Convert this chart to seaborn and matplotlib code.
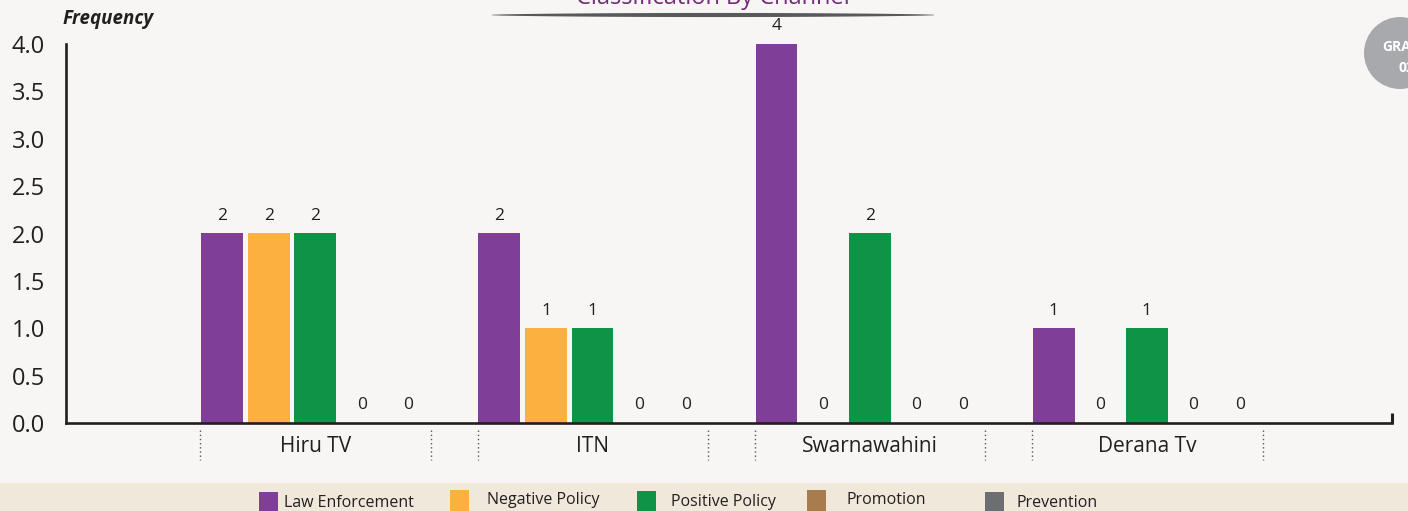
import pandas as pd
import matplotlib.pyplot as plt
import matplotlib.patches as mpatches
import seaborn as sns

## data
channels = ['Hiru TV', 'ITN', 'Swarnawahini', 'Derana Tv']
categories = ['Law Enforcement', 'Negative Policy', 'Positive Policy', 'Promotion', 'Prevention']
law_enforcement = [2, 2, 4, 1]
negative_policy = [2, 1, 0, 0]
positive_policy = [2, 1, 2, 1]
promotion = [0, 0, 0, 0]
prevention = [0, 0, 0, 0]
yticks = [0.0, 0.5, 1.0, 1.5, 2.0, 2.5, 3.0, 3.5, 4.0]
colors = ['#7f3f98', '#fbb040', '#0f9347', '#a97c50', '#6d6e71']

series = [law_enforcement, negative_policy, positive_policy, promotion, prevention]
rows = []
for cat, vals in zip(categories, series):
    for ch, v in zip(channels, vals):
        rows.append({'channel': ch, 'category': cat, 'count': v})
df = pd.DataFrame(rows)

bg = '#f7f6f4'
dark = '#231f20'
sns.set_style('white', {'axes.facecolor': bg, 'figure.facecolor': bg})
plt.rcParams['font.family'] = ['Open Sans', 'DejaVu Sans']

W, H = 1408, 511
fig = plt.figure(figsize=(W / 100, H / 100), dpi=100)
fig.patch.set_facecolor(bg)
ax = fig.add_axes([66 / W, 88 / H, 1326 / W, 379 / H])

sns.barplot(data=df, x='channel', y='count', hue='category', palette=colors,
            width=0.84, gap=0.1, ax=ax, legend=False, linewidth=0, saturation=1)

# value labels
for c in ax.containers:
    ax.bar_label(c, fmt='%g', padding=7, fontsize=12.5, color=dark)

ax.set_xlim(-0.9, 3.885)
ax.set_ylim(0, 4.0)
ax.set_yticks(yticks)
ax.set_yticklabels([f'{t:.1f}' for t in yticks])
ax.set_xlabel('')
ax.set_ylabel('')

for s in ['top', 'right']:
    ax.spines[s].set_visible(False)
for s in ['left', 'bottom']:
    ax.spines[s].set_color(dark)
    ax.spines[s].set_linewidth(1.9)

ax.tick_params(axis='y', direction='in', length=24, width=1.5, color=dark,
               labelsize=17, pad=15, labelcolor=dark)
ax.tick_params(axis='x', length=0, labelsize=15, pad=9, labelcolor=dark)

# small end tick at right of the x axis
ax.plot([1, 1], [0, 0.027], transform=ax.transAxes, color=dark, lw=2.2,
        clip_on=False, solid_capstyle='butt')

# dotted separators under each group
trans = ax.get_xaxis_transform()
for i in range(len(channels)):
    for dx in (-0.415, 0.418):
        ax.plot([i + dx, i + dx], [-0.018, -0.098], transform=trans, color='#555555',
                lw=1, ls=(0, (1, 2)), clip_on=False)

# y axis caption
fig.text(63 / W, 1 - 19 / H, 'Frequency', fontsize=13.5, fontweight='bold',
         fontstyle='italic', color=dark, ha='left', va='center')

# title, cut at the top edge, with swoosh under it
fig.text(713 / W, 1 - 4 / H, 'Classification By Channel', fontsize=17,
         color='#762a7b', ha='center', va='baseline')
yl = H - 15
half = 221
n = 40
top = []
bot = []
for k in range(n + 1):
    u = -1 + 2 * k / n
    t = 1.8 * (1 - u * u) ** 0.7 + 0.25
    x = 713 + half * u
    top.append(((x) / W, (yl + t) / H))
    bot.append(((x) / W, (yl - t) / H))
fig.add_artist(mpatches.Polygon(top + bot[::-1], closed=True, transform=fig.transFigure,
                                facecolor='#58595b', edgecolor='none'))

# grey badge at top right
fig.add_artist(mpatches.Circle((1400 / 100, (H - 53) / 100), 0.36,
                               transform=fig.dpi_scale_trans, color='#a7a9ac', lw=0))
fig.text(1406 / W, 1 - 47 / H, 'GRAPH', fontsize=10, fontweight='bold',
         color='white', ha='center', va='center')
fig.text(1406 / W, 1 - 68 / H, '02', fontsize=10, fontweight='bold',
         color='white', ha='center', va='center')

# legend band
fig.add_artist(mpatches.Rectangle((0, 0), 1, 28 / H, transform=fig.transFigure,
                                  color='#efe8db', lw=0))
sq_x = [259, 450, 637, 807, 985]
sq_top = [492, 490, 491, 490, 492]
txt_x = [284, 487, 671, 846, 1017]
txt_y = [503, 500, 502, 500, 503]
for cat, col, sx, st, tx, ty in zip(categories, colors, sq_x, sq_top, txt_x, txt_y):
    fig.add_artist(mpatches.Rectangle((sx / W, 0), 19 / W, (H - st) / H,
                                      transform=fig.transFigure, color=col, lw=0))
    fig.text(tx / W, 1 - ty / H, cat, fontsize=11.5, color=dark, ha='left', va='center')

fig.savefig('out.png', dpi=100, facecolor=bg)
